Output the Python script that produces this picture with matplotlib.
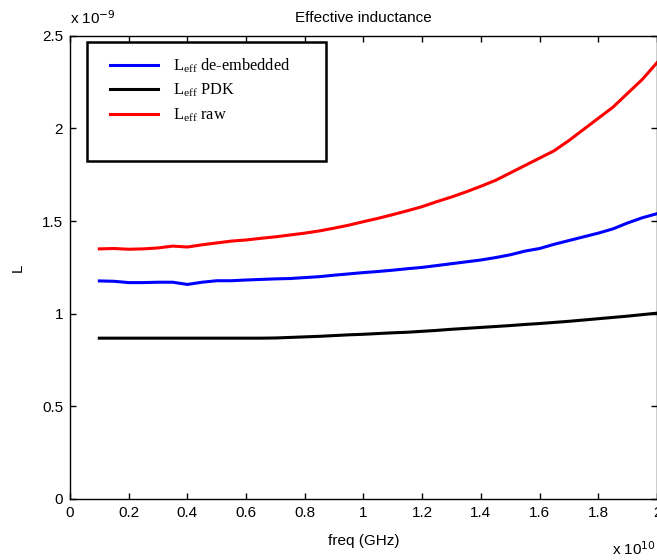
import matplotlib
matplotlib.use('Agg')
import matplotlib.pyplot as plt
from matplotlib.patches import Rectangle

plt.rcParams['font.family'] = 'Liberation Sans'
plt.rcParams['mathtext.fontset'] = 'custom'
plt.rcParams['mathtext.rm'] = 'Liberation Serif'
plt.rcParams['mathtext.it'] = 'Liberation Serif:italic'

# frequency in units of 1e10 Hz, inductance in units of 1e-9 H
freq = [0.10, 0.15, 0.20, 0.25, 0.30, 0.35, 0.40, 0.45, 0.50, 0.55,
        0.60, 0.65, 0.70, 0.75, 0.80, 0.85, 0.90, 0.95, 1.00, 1.05,
        1.10, 1.15, 1.20, 1.25, 1.30, 1.35, 1.40, 1.45, 1.50, 1.55,
        1.60, 1.65, 1.70, 1.75, 1.80, 1.85, 1.90, 1.95, 2.00]

L_deemb = [1.177, 1.175, 1.168, 1.168, 1.170, 1.170, 1.158, 1.170, 1.178, 1.178,
           1.182, 1.185, 1.188, 1.190, 1.195, 1.200, 1.208, 1.215, 1.222, 1.228,
           1.235, 1.243, 1.250, 1.260, 1.270, 1.280, 1.290, 1.303, 1.318, 1.338,
           1.352, 1.375, 1.395, 1.415, 1.435, 1.458, 1.490, 1.518, 1.540]

L_pdk = [0.868, 0.868, 0.868, 0.868, 0.868, 0.868, 0.868, 0.868, 0.868, 0.868,
         0.868, 0.868, 0.869, 0.872, 0.875, 0.878, 0.882, 0.886, 0.889, 0.893,
         0.897, 0.900, 0.905, 0.910, 0.916, 0.921, 0.926, 0.931, 0.936, 0.942,
         0.947, 0.953, 0.959, 0.966, 0.973, 0.980, 0.987, 0.995, 1.003]

L_raw = [1.350, 1.352, 1.348, 1.350, 1.355, 1.365, 1.360, 1.372, 1.382, 1.392,
         1.398, 1.407, 1.415, 1.425, 1.435, 1.447, 1.462, 1.478, 1.497, 1.515,
         1.535, 1.556, 1.578, 1.605, 1.630, 1.658, 1.688, 1.720, 1.760, 1.800,
         1.840, 1.880, 1.935, 1.995, 2.055, 2.115, 2.190, 2.265, 2.355]

labels = [r'L$_{\rm eff}$ de-embedded', r'L$_{\rm eff}$ PDK', r'L$_{\rm eff}$ raw']
colors = ['#0000ff', '#000000', '#ff0000']

xticks = [0, 0.2, 0.4, 0.6, 0.8, 1, 1.2, 1.4, 1.6, 1.8, 2]
xticklabels = ['0', '0.2', '0.4', '0.6', '0.8', '1', '1.2', '1.4', '1.6', '1.8', '2']
yticks = [0, 0.5, 1, 1.5, 2, 2.5]
yticklabels = ['0', '0.5', '1', '1.5', '2', '2.5']

fig = plt.figure(figsize=(6.57, 5.6), dpi=100)
ax = fig.add_axes([0.1065, 0.109, 0.8935, 0.827])

for ys, lab, c in zip([L_deemb, L_pdk, L_raw], labels, colors):
    ax.plot(freq, ys, color=c, lw=2.2, label=lab)

ax.set_xlim(0, 2)
ax.set_ylim(0, 2.5)
ax.set_xticks(xticks)
ax.set_xticklabels(xticklabels)
ax.set_yticks(yticks)
ax.set_yticklabels(yticklabels)
ax.tick_params(direction='in', length=4, width=1, top=True, right=True,
               labelsize=11, pad=5)
for s in ax.spines.values():
    s.set_linewidth(1)

ax.set_title('Effective inductance', fontsize=11, pad=10)
ax.set_xlabel('freq (GHz)', fontsize=11, labelpad=10)
ax.set_ylabel('L', fontsize=11, labelpad=12)

ax.text(0.0, 1.02, r'x 10$^{\mathsf{-9}}$', transform=ax.transAxes, fontsize=11,
        ha='left', va='bottom')
ax.text(0.998, -0.09, r'x 10$^{\mathsf{10}}$', transform=ax.transAxes, fontsize=11,
        ha='right', va='top')

# legend box (MATLAB style, taller than its content)
ax.add_patch(Rectangle((0.029, 0.730), 0.407, 0.257, transform=ax.transAxes,
                       fill=False, edgecolor='black', lw=1.8, zorder=5))
leg = ax.legend(loc='upper left', bbox_to_anchor=(0.057, 0.97), frameon=False,
                handlelength=2.95, handletextpad=0.9, labelspacing=0.45,
                prop={'family': 'Liberation Serif', 'size': 11.8},
                borderaxespad=0)

fig.savefig('out.png', dpi=100)
